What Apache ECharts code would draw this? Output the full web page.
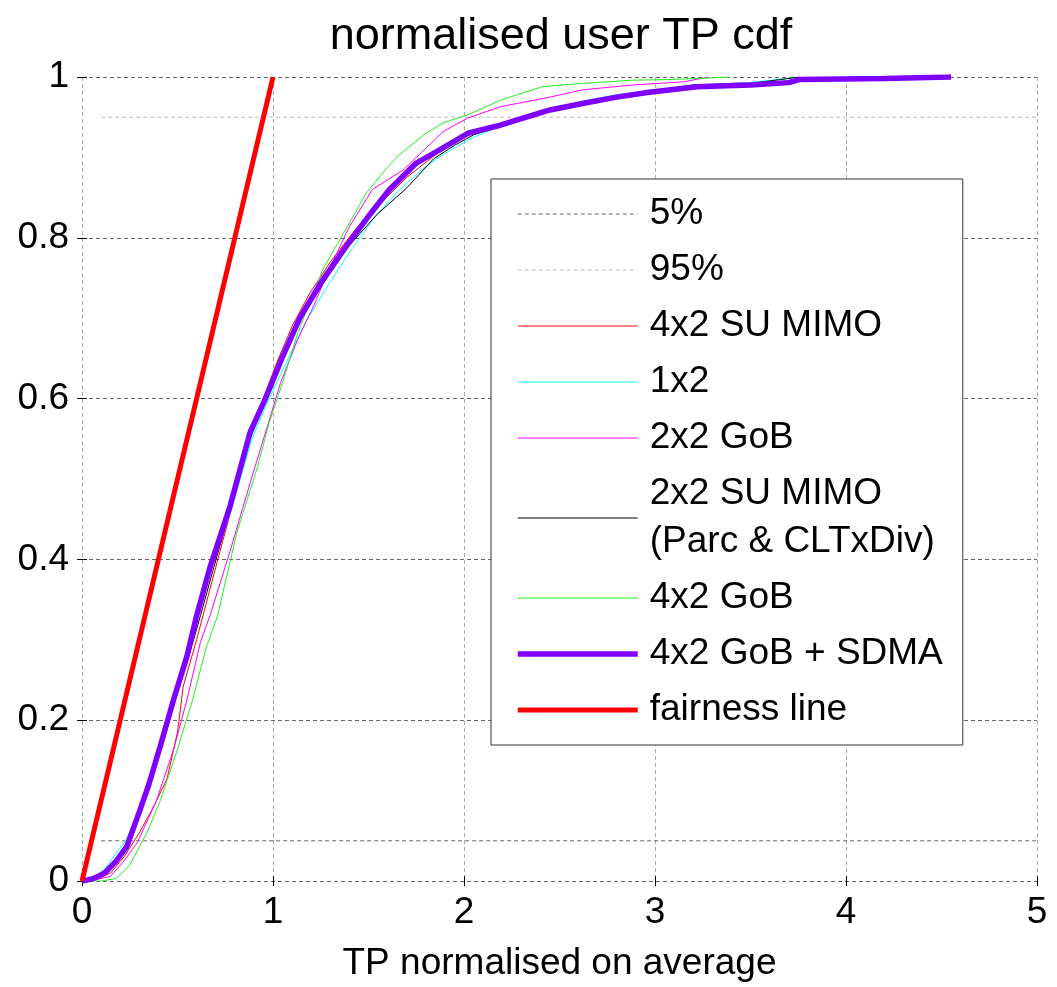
<!DOCTYPE html>
<html>
<head>
<meta charset="utf-8">
<title>normalised user TP cdf</title>
<script src="https://cdn.jsdelivr.net/npm/echarts@6/dist/echarts.min.js"></script>
<style>
  html, body { margin: 0; padding: 0; background: #fff; }
  #chart { width: 1057px; height: 987px; }
</style>
</head>
<body>
<div id="chart"></div>
<script>
// Axis ticks
const xTicks = [0, 1, 2, 3, 4, 5];
const yTicks = [0, 0.2, 0.4, 0.6, 0.8, 1];

// Reference percentile lines [x, y]
const line5 = [[0.1, 0.05], [5, 0.05]];
const line95 = [[0.1, 0.95], [5, 0.95]];

// Empirical CDFs of normalised user throughput, [TP / average, cumulative probability]
const suMimo4x2 = [[0,0],[0.08,0.003],[0.15,0.01],[0.22,0.03],[0.30,0.06],[0.37,0.09],[0.445,0.127],[0.50,0.185],[0.53,0.242],[0.60,0.30],[0.70,0.39],[0.79,0.47],[0.88,0.55],[0.95,0.60],[1.02,0.645],[1.10,0.69],[1.19,0.73],[1.30,0.77],[1.43,0.81],[1.55,0.84],[1.70,0.875],[1.87,0.907],[2.02,0.928],[2.20,0.942],[2.45,0.958],[2.62,0.967],[2.80,0.975],[2.97,0.982],[3.20,0.99],[3.50,0.993],[3.70,0.995],[3.80,1.0]];
const rx1x2 = [[0,0],[0.06,0.004],[0.12,0.015],[0.18,0.035],[0.23,0.05],[0.30,0.09],[0.41,0.17],[0.48,0.228],[0.55,0.282],[0.61,0.33],[0.68,0.39],[0.78,0.46],[0.89,0.55],[0.97,0.595],[1.07,0.645],[1.17,0.695],[1.28,0.738],[1.40,0.782],[1.53,0.825],[1.65,0.857],[1.78,0.885],[1.90,0.905],[2.05,0.925],[2.20,0.94],[2.45,0.96],[2.62,0.97],[2.80,0.978],[2.97,0.983],[3.20,0.99],[3.50,0.993],[3.75,1.0]];
const gob2x2 = [[0,0],[0.08,0.002],[0.15,0.006],[0.22,0.025],[0.29,0.048],[0.39,0.10],[0.48,0.164],[0.55,0.226],[0.62,0.297],[0.67,0.33],[0.775,0.41],[0.88,0.495],[0.97,0.565],[1.04,0.62],[1.13,0.674],[1.21,0.714],[1.30,0.764],[1.40,0.814],[1.52,0.86],[1.68,0.884],[1.79,0.909],[1.89,0.932],[2.02,0.949],[2.19,0.963],[2.45,0.975],[2.62,0.984],[2.88,0.990],[3.15,0.994],[3.28,1.0]];
const suMimo2x2 = [[0,0],[0.07,0.003],[0.14,0.012],[0.20,0.03],[0.25,0.05],[0.31,0.09],[0.42,0.168],[0.49,0.226],[0.56,0.28],[0.62,0.33],[0.69,0.39],[0.78,0.465],[0.88,0.55],[0.96,0.598],[1.05,0.65],[1.15,0.70],[1.26,0.742],[1.38,0.785],[1.54,0.828],[1.70,0.862],[1.84,0.898],[1.95,0.915],[2.05,0.928],[2.20,0.94],[2.45,0.959],[2.62,0.967],[2.80,0.975],[2.97,0.982],[3.20,0.99],[3.50,0.992],[3.76,1.0]];
const gob4x2 = [[0,0],[0.10,0.0],[0.18,0.003],[0.25,0.02],[0.34,0.06],[0.41,0.10],[0.50,0.164],[0.58,0.226],[0.65,0.29],[0.71,0.33],[0.81,0.433],[0.92,0.516],[0.98,0.57],[1.05,0.62],[1.13,0.682],[1.26,0.76],[1.37,0.806],[1.49,0.856],[1.60,0.888],[1.66,0.903],[1.79,0.928],[1.89,0.943],[2.02,0.953],[2.19,0.971],[2.41,0.988],[2.62,0.992],[2.88,0.996],[3.10,0.997],[3.40,1.0]];
const gobSdma4x2 = [[0,0],[0.06,0.003],[0.12,0.01],[0.18,0.025],[0.235,0.043],[0.30,0.086],[0.35,0.12],[0.41,0.168],[0.48,0.226],[0.55,0.28],[0.60,0.33],[0.67,0.39],[0.775,0.466],[0.88,0.558],[0.96,0.60],[1.05,0.652],[1.14,0.70],[1.25,0.744],[1.37,0.785],[1.51,0.83],[1.61,0.86],[1.75,0.893],[1.87,0.909],[2.02,0.930],[2.19,0.940],[2.45,0.959],[2.62,0.967],[2.80,0.975],[2.97,0.981],[3.22,0.988],[3.50,0.99],[3.70,0.993],[3.76,0.997],[4.20,0.998],[4.55,1.0]];
const fairness = [[0,0],[1,1]];

const FONT = '"Liberation Sans", Arial, sans-serif';

// name, data, colour, width, dash
const seriesDefs = [
  ['5%', line5, '#666666', 1, [4, 3]],
  ['95%', line95, '#bbbbbb', 1, [4, 3]],
  ['4x2 SU MIMO', suMimo4x2, '#ff0000', 1, 'solid'],
  ['1x2', rx1x2, '#00ffff', 1, 'solid'],
  ['2x2 GoB', gob2x2, '#ff00ff', 1, 'solid'],
  ['2x2 SU MIMO\n(Parc & CLTxDiv)', suMimo2x2, '#000000', 1, 'solid'],
  ['4x2 GoB', gob4x2, '#22ee22', 1, 'solid'],
  ['4x2 GoB + SDMA', gobSdma4x2, '#7f00ff', 5.5, 'solid'],
  ['fairness line', fairness, '#ff0000', 5, 'solid']
];

const chart = echarts.init(document.getElementById('chart'), null, { renderer: 'canvas' });

const option = {
  backgroundColor: '#ffffff',
  animation: false,
  title: {
    text: 'normalised user TP cdf',
    left: 556,
    top: 9,
    textAlign: 'center',
    textStyle: { fontFamily: FONT, fontSize: 45, fontWeight: 'normal', color: '#000' }
  },
  grid: { left: 82, right: 20, top: 77, bottom: 105, containLabel: false },
  xAxis: [
    {
      type: 'value', min: xTicks[0], max: xTicks[xTicks.length - 1], interval: 1,
      name: 'TP normalised on average', nameLocation: 'middle', nameGap: 64,
      nameTextStyle: { fontFamily: FONT, fontSize: 37, color: '#000' },
      axisLine: { show: false },
      axisTick: { show: true, inside: true, length: 5, lineStyle: { color: '#000', width: 1 } },
      axisLabel: { fontFamily: FONT, fontSize: 37, color: '#000', margin: 13 },
      splitLine: { show: true, lineStyle: { color: '#aaaaaa', width: 1, type: [4, 3] } }
    },
    {
      type: 'value', position: 'top', min: xTicks[0], max: xTicks[xTicks.length - 1], interval: 1,
      axisLine: { show: false },
      axisTick: { show: true, inside: true, length: 5, lineStyle: { color: '#000', width: 1 } },
      axisLabel: { show: false },
      splitLine: { show: false }
    }
  ],
  yAxis: [
    {
      type: 'value', min: yTicks[0], max: yTicks[yTicks.length - 1], interval: 0.2,
      axisLine: { show: false },
      axisTick: { show: true, inside: true, length: 5, lineStyle: { color: '#000', width: 1 } },
      axisLabel: { fontFamily: FONT, fontSize: 37, color: '#000', margin: 13 },
      splitLine: { show: true, lineStyle: { color: '#666666', width: 1, type: [4, 3] } }
    },
    {
      type: 'value', position: 'right', min: yTicks[0], max: yTicks[yTicks.length - 1], interval: 0.2,
      axisLine: { show: false },
      axisTick: { show: true, inside: true, length: 5, lineStyle: { color: '#000', width: 1 } },
      axisLabel: { show: false },
      splitLine: { show: false }
    }
  ],
  legend: {
    orient: 'vertical',
    left: 491,
    top: 179,
    selectedMode: false,
    backgroundColor: '#ffffff',
    borderColor: '#333333',
    borderWidth: 1,
    borderRadius: 0,
    padding: [11, 20, 11, 24],
    itemGap: 8,
    itemWidth: 120,
    itemHeight: 3,
    itemStyle: { opacity: 0 },
    textStyle: { fontFamily: FONT, fontSize: 37, lineHeight: 48, color: '#000', padding: [0, 0, 0, 7] },
    data: seriesDefs.map(d => ({
      name: d[0],
      lineStyle: { color: d[2], width: d[3], type: d[4] }
    }))
  },
  series: seriesDefs.map(d => ({
    name: d[0],
    type: 'line',
    data: d[1],
    symbol: 'none',
    silent: true,
    animation: false,
    lineStyle: { color: d[2], width: d[3], type: d[4] },
    itemStyle: { color: d[2] }
  }))
};

chart.setOption(option);
</script>
</body>
</html>
